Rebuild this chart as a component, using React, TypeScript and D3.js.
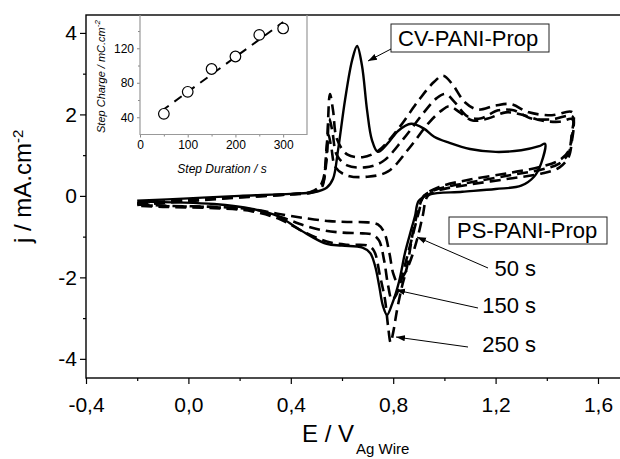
import React, { useEffect, useRef } from "react";
import * as d3 from "d3";

const W = 620;
const H = 459;
const FONT = "'Liberation Sans', Arial, sans-serif";

// voltammograms, [E / V, j / mA.cm-2], anodic sweep then cathodic sweep
const cvPaniProp = [
  [-0.2, -0.12], [0.0, -0.06], [0.2, 0.0], [0.4, 0.05], [0.49, 0.09], [0.54, 0.2], [0.565, 0.42],
  [0.584, 1.1], [0.612, 2.36], [0.64, 3.34], [0.659, 3.68], [0.678, 3.2], [0.698, 2.1], [0.717, 1.37],
  [0.74, 1.08], [0.78, 1.3], [0.82, 1.6], [0.87, 1.77], [0.92, 1.65], [0.96, 1.45], [1.02, 1.3],
  [1.1, 1.15], [1.2, 1.08], [1.3, 1.12], [1.37, 1.22], [1.393, 1.28],
  [1.378, 0.8], [1.35, 0.47], [1.3, 0.25], [1.2, 0.17], [1.07, 0.1], [0.94, 0.03], [0.9, -0.12],
  [0.885, -0.5], [0.865, -0.95], [0.846, -1.4], [0.823, -2.1], [0.796, -2.65], [0.776, -2.92],
  [0.76, -2.7], [0.745, -2.2], [0.73, -1.74], [0.71, -1.4], [0.68, -1.27], [0.6, -1.22],
  [0.54, -1.18], [0.44, -0.85], [0.35, -0.5], [0.25, -0.32], [0.1, -0.2], [-0.2, -0.14],
];

const psPani50 = [
  [-0.2, -0.18], [0.0, -0.1], [0.2, -0.02], [0.4, 0.04], [0.48, 0.08], [0.52, 0.2], [0.535, 0.7],
  [0.547, 1.5], [0.558, 1.2], [0.575, 0.7], [0.62, 0.5], [0.7, 0.47], [0.78, 0.6], [0.86, 1.15],
  [0.94, 1.8], [0.99, 2.1], [1.02, 2.2], [1.06, 2.05], [1.11, 1.85], [1.17, 1.9], [1.24, 2.05],
  [1.3, 2.0], [1.38, 1.85], [1.45, 1.82], [1.5, 1.88],
  [1.497, 1.3], [1.485, 0.95], [1.45, 0.7], [1.38, 0.55], [1.25, 0.42], [1.1, 0.28], [0.98, 0.14],
  [0.935, 0.0], [0.915, -0.5], [0.897, -0.98], [0.875, -1.45], [0.85, -1.85], [0.83, -2.05],
  [0.815, -2.1], [0.8, -1.9], [0.785, -1.4], [0.765, -0.9], [0.74, -0.7], [0.7, -0.65],
  [0.62, -0.64], [0.55, -0.62], [0.46, -0.55], [0.36, -0.45], [0.25, -0.33], [0.1, -0.27],
  [-0.1, -0.24], [-0.2, -0.2],
];

const psPani150 = [
  [-0.2, -0.2], [0.0, -0.11], [0.2, -0.03], [0.4, 0.04], [0.48, 0.09], [0.52, 0.25], [0.54, 0.9],
  [0.55, 1.9], [0.562, 1.6], [0.58, 1.0], [0.62, 0.75], [0.69, 0.7], [0.76, 0.85], [0.84, 1.4],
  [0.92, 2.05], [0.97, 2.4], [1.005, 2.5], [1.04, 2.3], [1.09, 1.95], [1.14, 1.9], [1.21, 2.1],
  [1.27, 2.1], [1.34, 1.9], [1.42, 1.88], [1.5, 1.95],
  [1.497, 1.4], [1.485, 1.05], [1.45, 0.8], [1.38, 0.65], [1.25, 0.5], [1.1, 0.33], [0.98, 0.18],
  [0.92, 0.0], [0.9, -0.4], [0.875, -1.0], [0.85, -1.6], [0.83, -2.1], [0.81, -2.45], [0.795, -2.55],
  [0.78, -2.2], [0.765, -1.6], [0.745, -1.1], [0.72, -0.95], [0.68, -0.92], [0.6, -0.9],
  [0.53, -0.85], [0.45, -0.72], [0.36, -0.52], [0.25, -0.35], [0.1, -0.28], [-0.1, -0.25], [-0.2, -0.22],
];

const psPani250 = [
  [-0.2, -0.22], [0.0, -0.13], [0.2, -0.04], [0.4, 0.04], [0.48, 0.1], [0.52, 0.3], [0.54, 1.2],
  [0.553, 2.5], [0.565, 2.1], [0.58, 1.4], [0.62, 1.02], [0.68, 0.95], [0.74, 1.1], [0.82, 1.65],
  [0.9, 2.35], [0.96, 2.8], [0.995, 2.95], [1.03, 2.75], [1.08, 2.3], [1.13, 2.12], [1.2, 2.22],
  [1.26, 2.25], [1.33, 2.05], [1.42, 1.98], [1.5, 2.05],
  [1.497, 1.5], [1.485, 1.1], [1.45, 0.88], [1.38, 0.72], [1.25, 0.56], [1.1, 0.4], [0.98, 0.22],
  [0.92, 0.0], [0.9, -0.3], [0.877, -0.9], [0.854, -1.74], [0.834, -2.23], [0.815, -2.8], [0.8, -3.35],
  [0.79, -3.6], [0.78, -3.2], [0.768, -2.55], [0.748, -1.95], [0.725, -1.35], [0.7, -1.22],
  [0.62, -1.2], [0.54, -1.12], [0.45, -0.88], [0.36, -0.58], [0.25, -0.38], [0.1, -0.3],
  [-0.1, -0.27], [-0.2, -0.24],
];

const xTicks = [-0.4, 0, 0.4, 0.8, 1.2, 1.6];
const xMinor = [-0.2, 0.2, 0.6, 1.0, 1.4];
const yTicks = [-4, -2, 0, 2, 4];
const yMinor = [-3, -1, 1, 3];

// inset
const stepDuration = [50, 100, 150, 200, 250, 300];
const stepCharge = [44, 69.5, 96, 110.5, 135.5, 143];
const insetXTicks = [0, 100, 200, 300];
const insetXMinor = [50, 150, 250];
const insetYTicks = [40, 80, 120];
const insetYMinor = [60, 100, 140];

function styleAxis(g, size) {
  g.select(".domain").remove();
  g.selectAll("text").attr("font-family", FONT).attr("font-size", size).attr("fill", "#000");
}

export default function App() {
  const ref = useRef(null);

  useEffect(() => {
    const svg = d3.select(ref.current);
    svg.selectAll("*").remove();

    const x = d3.scaleLinear().domain([-0.4, 1.8]).range([86, 649.2]);
    const y = d3.scaleLinear().domain([-4.47, 4.44]).range([378, 15]);

    svg.append("rect").attr("width", W).attr("height", H).attr("fill", "#fff");

    const defs = svg.append("defs");
    defs
      .append("marker")
      .attr("id", "arr")
      .attr("viewBox", "0 0 10 10")
      .attr("refX", 10)
      .attr("refY", 5)
      .attr("markerWidth", 9)
      .attr("markerHeight", 9)
      .attr("markerUnits", "userSpaceOnUse")
      .attr("orient", "auto")
      .append("path")
      .attr("d", "M0,1.5L10,5L0,8.5z")
      .attr("fill", "#000");

    // axes
    const fmtX = d => d.toFixed(1).replace(".", ",");
    const gx = svg
      .append("g")
      .attr("transform", "translate(0,378)")
      .call(d3.axisBottom(x).tickValues(xTicks).tickSize(6).tickPadding(13).tickFormat(fmtX));
    styleAxis(gx, 21);
    const gxm = svg
      .append("g")
      .attr("transform", "translate(0,378)")
      .call(d3.axisBottom(x).tickValues(xMinor).tickSize(3).tickFormat(() => ""));
    styleAxis(gxm, 0);

    const gy = svg
      .append("g")
      .attr("transform", "translate(86,0)")
      .call(d3.axisLeft(y).tickValues(yTicks).tickSize(6).tickPadding(3).tickFormat(d => String(d)));
    styleAxis(gy, 21);
    const gym = svg
      .append("g")
      .attr("transform", "translate(86,0)")
      .call(d3.axisLeft(y).tickValues(yMinor).tickSize(3).tickFormat(() => ""));
    styleAxis(gym, 0);
    svg.selectAll(".tick line").attr("stroke", "#000").attr("stroke-width", 1.2);

    svg
      .append("rect")
      .attr("x", 86)
      .attr("y", 15)
      .attr("width", x(1.8) - 86)
      .attr("height", 378 - 15)
      .attr("fill", "none")
      .attr("stroke", "#000")
      .attr("stroke-width", 1.4);

    // axis titles
    const xt = svg
      .append("text")
      .attr("x", 302)
      .attr("y", 442)
      .attr("font-family", FONT)
      .attr("font-size", 24)
      .text("E / V");
    xt.append("tspan").attr("dy", 12).attr("dx", 2).attr("font-size", 15).text("Ag Wire");

    const yt = svg
      .append("text")
      .attr("transform", "translate(31,243) rotate(-90)")
      .attr("font-family", FONT)
      .attr("font-size", 24)
      .text("j / mA.cm");
    yt.append("tspan").attr("dy", -8).attr("font-size", 15).text("-2");

    // curves
    const line = d3
      .line()
      .x(d => x(d[0]))
      .y(d => y(d[1]))
      .curve(d3.curveCatmullRom.alpha(0.5));

    [psPani50, psPani150, psPani250].forEach(s => {
      svg
        .append("path")
        .attr("d", line(s))
        .attr("fill", "none")
        .attr("stroke", "#000")
        .attr("stroke-width", 2.6)
        .attr("stroke-dasharray", "11,6");
    });
    svg
      .append("path")
      .attr("d", line(cvPaniProp))
      .attr("fill", "none")
      .attr("stroke", "#000")
      .attr("stroke-width", 2.4);

    // annotations
    const box = (tx, ty, label, bx, by, bw, bh) => {
      svg
        .append("rect")
        .attr("x", bx)
        .attr("y", by)
        .attr("width", bw)
        .attr("height", bh)
        .attr("fill", "#fff")
        .attr("stroke", "#222")
        .attr("stroke-width", 1);
      svg
        .append("text")
        .attr("x", tx)
        .attr("y", ty)
        .attr("font-family", FONT)
        .attr("font-size", 22)
        .text(label);
    };
    box(398, 46, "CV-PANI-Prop", 391, 24, 158, 28);
    box(457, 238, "PS-PANI-Prop", 449, 217, 158, 27);

    const arrow = (x1, y1, x2, y2) =>
      svg
        .append("line")
        .attr("x1", x1)
        .attr("y1", y1)
        .attr("x2", x2)
        .attr("y2", y2)
        .attr("stroke", "#000")
        .attr("stroke-width", 1)
        .attr("marker-end", "url(#arr)");
    arrow(391, 49, 368, 61);
    arrow(488, 268, 417, 237);
    arrow(478, 308, 396, 290);
    arrow(468, 347, 396, 337);

    [["50 s", 276], ["150 s", 313], ["250 s", 352]].forEach(([t, ty]) => {
      svg
        .append("text")
        .attr("x", 536)
        .attr("y", ty)
        .attr("text-anchor", "end")
        .attr("font-family", FONT)
        .attr("font-size", 22)
        .text(t);
    });

    // inset
    const ix = d3.scaleLinear().domain([0, 350]).range([140, 307]);
    const iy = d3.scaleLinear().domain([20, 160]).range([134.5, 13.8]);
    const inset = svg.append("g");

    const gix = inset
      .append("g")
      .attr("transform", "translate(0,134.5)")
      .call(d3.axisBottom(ix).tickValues(insetXTicks).tickSize(3).tickPadding(3));
    styleAxis(gix, 12);
    const gixm = inset
      .append("g")
      .attr("transform", "translate(0,134.5)")
      .call(d3.axisBottom(ix).tickValues(insetXMinor).tickSize(2).tickFormat(() => ""));
    styleAxis(gixm, 0);
    const giy = inset
      .append("g")
      .attr("transform", "translate(140,0)")
      .call(d3.axisLeft(iy).tickValues(insetYTicks).tickSize(3).tickPadding(3));
    styleAxis(giy, 12);
    const giym = inset
      .append("g")
      .attr("transform", "translate(140,0)")
      .call(d3.axisLeft(iy).tickValues(insetYMinor).tickSize(2).tickFormat(() => ""));
    styleAxis(giym, 0);
    inset.selectAll(".tick line").attr("stroke", "#888").attr("stroke-width", 1);

    inset
      .append("path")
      .attr("d", `M140,15V134.5H307V15`)
      .attr("fill", "none")
      .attr("stroke", "#999")
      .attr("stroke-width", 1.2);

    // linear fit through the step charges
    const mx = d3.mean(stepDuration);
    const my = d3.mean(stepCharge);
    const slope =
      d3.sum(stepDuration, (d, i) => (d - mx) * (stepCharge[i] - my)) /
      d3.sum(stepDuration, d => (d - mx) ** 2);
    const icpt = my - slope * mx;
    inset
      .append("line")
      .attr("x1", ix(45))
      .attr("y1", iy(icpt + slope * 45))
      .attr("x2", ix(300))
      .attr("y2", iy(icpt + slope * 300))
      .attr("stroke", "#000")
      .attr("stroke-width", 2)
      .attr("stroke-dasharray", "9,7");

    inset
      .selectAll("circle")
      .data(stepDuration)
      .enter()
      .append("circle")
      .attr("cx", d => ix(d))
      .attr("cy", (d, i) => iy(stepCharge[i]))
      .attr("r", 5.3)
      .attr("fill", "#fff")
      .attr("stroke", "#000")
      .attr("stroke-width", 1.2);

    inset
      .append("text")
      .attr("x", 222)
      .attr("y", 173)
      .attr("text-anchor", "middle")
      .attr("font-family", FONT)
      .attr("font-size", 12)
      .attr("font-style", "italic")
      .text("Step Duration / s");

    const iyt = inset
      .append("text")
      .attr("transform", "translate(105,133) rotate(-90)")
      .attr("font-family", FONT)
      .attr("font-size", 11)
      .attr("font-style", "italic")
      .text("Step Charge / mC.cm");
    iyt.append("tspan").attr("dy", -5).attr("font-size", 8).text("-2");
  }, []);

  return (
    <svg
      ref={ref}
      width={W}
      height={H}
      style={{ position: "absolute", left: 0, top: 0, display: "block" }}
    />
  );
}
